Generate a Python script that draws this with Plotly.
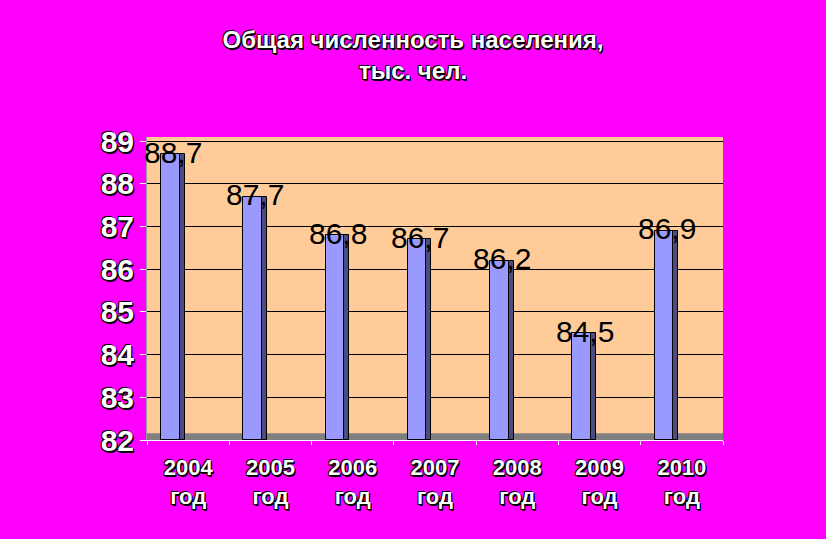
import plotly.graph_objects as go

years = ["2004", "2005", "2006", "2007", "2008", "2009", "2010"]
categories = [f"{y}<br>год" for y in years]
population = [88.7, 87.7, 86.8, 86.7, 86.2, 84.5, 86.9]
value_labels = ["88,7", "87,7", "86,8", "86,7", "86,2", "84,5", "86,9"]
y_ticks = [82, 83, 84, 85, 86, 87, 88, 89]
y_base = 82

shadow = "1px 1px 0px black, -1px 1px 0px black, 1px 2px 0px black, -1px -1px 0px black"

fig = go.Figure()
heights = [v - y_base for v in population]
# front face
fig.add_trace(go.Bar(
    x=categories, y=heights, base=y_base,
    offset=-0.33, width=0.225,
    marker=dict(color="#9999FF", line=dict(color="black", width=1)),
    hoverinfo="skip", showlegend=False,
))
# side face (3D depth)
fig.add_trace(go.Bar(
    x=categories, y=heights, base=y_base,
    offset=-0.105, width=0.062,
    marker=dict(color="#4C4C80", line=dict(color="black", width=1)),
    hoverinfo="skip", showlegend=False,
))

for cat, v, lab in zip(categories, population, value_labels):
    fig.add_annotation(
        x=cat, y=v, text=lab, showarrow=False, xshift=-15, yshift=2,
        font=dict(family="Arial, Liberation Sans", size=30, color="black"),
    )

fig.add_shape(type="rect", xref="paper", yref="y", x0=0, x1=1, y0=82, y1=82.16,
              fillcolor="#808080", line=dict(width=0), layer="below")

fig.update_layout(
    width=826, height=539,
    paper_bgcolor="#FF00FF", plot_bgcolor="#FFCC99",
    margin=dict(l=147, r=103, t=137, b=99),
    title=dict(
        text="Общая численность населения,<br>тыс. чел.",
        x=0.5, xanchor="center", y=1 - 48 / 539, yanchor="middle",
        font=dict(family="Arial, Liberation Sans", size=24, color="white", weight="bold", shadow=shadow),
    ),
    bargap=0,
    xaxis=dict(
        type="category", range=[-0.5, 6.5], showgrid=False,
        showline=True, linecolor="white", linewidth=1,
        ticks="outside", tickson="boundaries", tickcolor="white", ticklen=4,
        ticklabelstandoff=8,
        tickfont=dict(family="Arial, Liberation Sans", size=22, color="white", weight="bold", shadow=shadow),
    ),
    yaxis=dict(
        range=[82, 89.1], tickvals=y_ticks, showgrid=True, gridcolor="black", gridwidth=1,
        zeroline=False, showline=True, linecolor="#999999", ticks="outside", tickcolor="white", ticklen=6,
        ticklabelstandoff=0,
        tickfont=dict(family="Arial, Liberation Sans", size=30, color="white", weight="bold", shadow=shadow),
    ),
)

fig.write_html(
    "out.html",
    config={"displayModeBar": False},
    post_script="document.body.style.margin='0';document.body.style.overflow='hidden';",
)
